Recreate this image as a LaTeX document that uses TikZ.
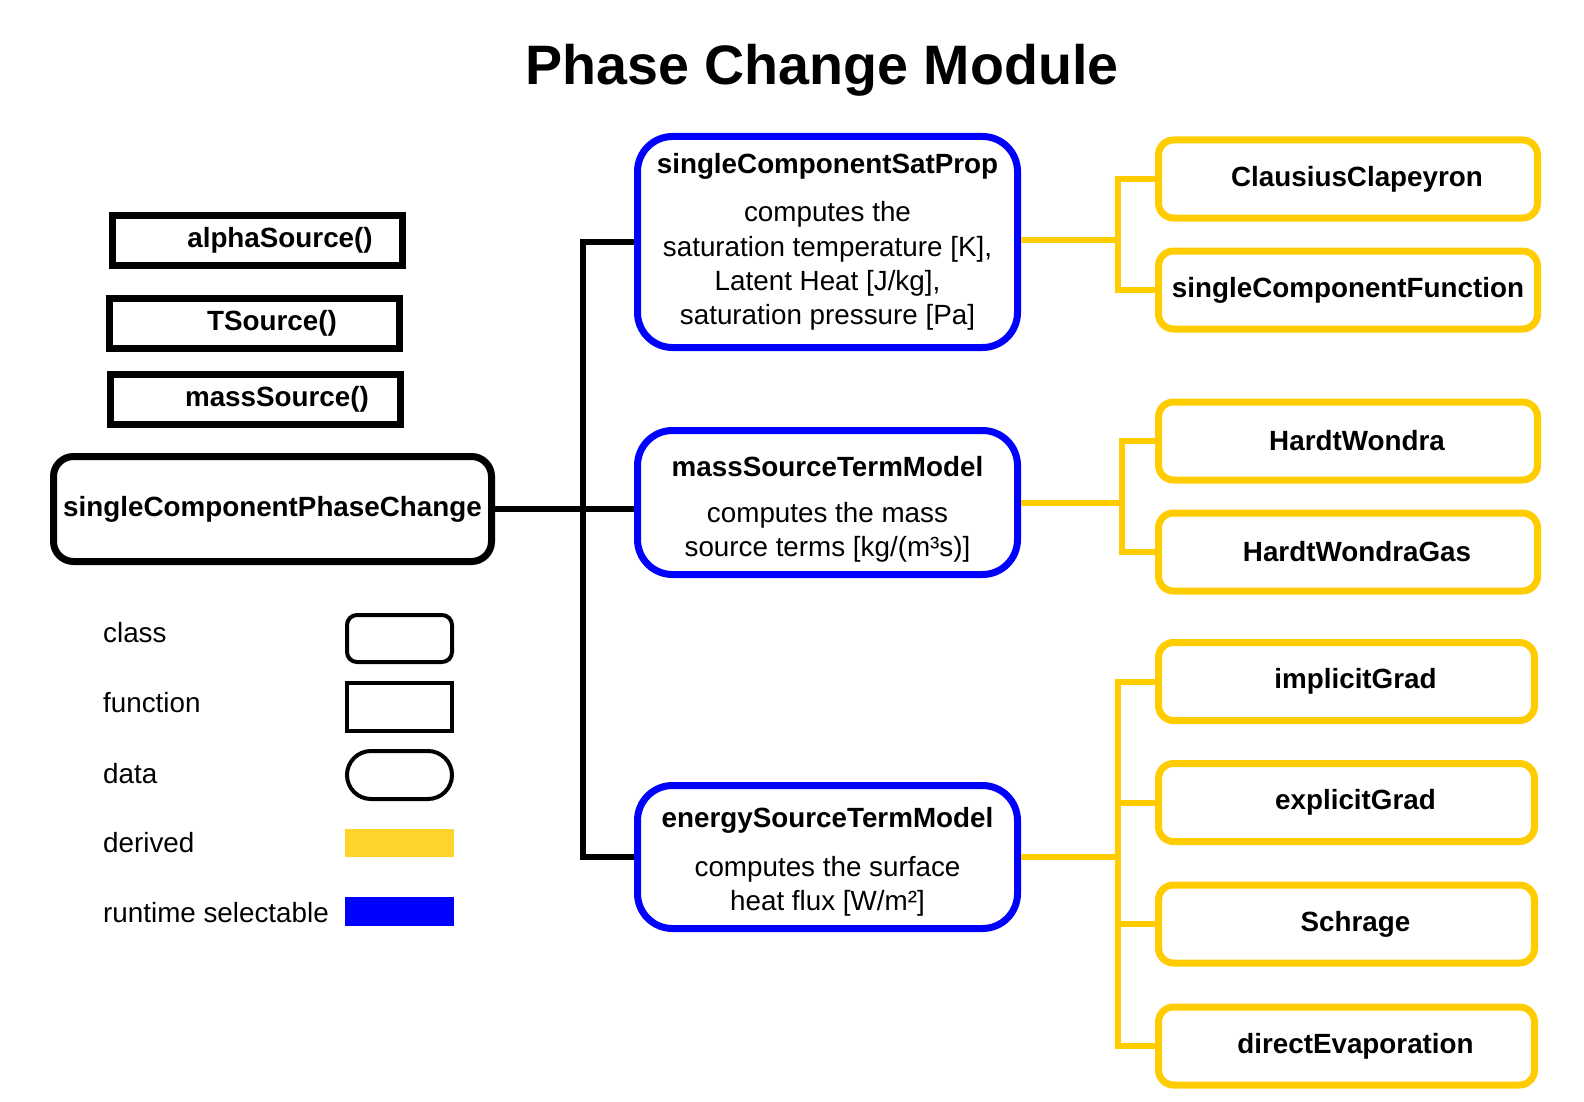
\documentclass[tikz,border=0pt]{standalone}
\usepackage{fontspec}
\setmainfont{Liberation Sans}
\definecolor{rtblue}{HTML}{0000FF}
\definecolor{deryellow}{HTML}{FFCC00}
\definecolor{legyellow}{HTML}{FFD42A}
\begin{document}
\begin{tikzpicture}[x=1pt,y=-1pt,
        txt/.style={inner sep=0pt,font=\fontsize{27.8}{34.3}\selectfont},
        fnbox/.style={draw,line width=7pt,minimum width=290pt,minimum height=50pt,inner sep=0pt,font=\fontsize{27.8}{34.3}\selectfont\bfseries},
        clsbox/.style={draw,line width=7pt,rounded corners=20pt,inner sep=0pt,font=\fontsize{27.8}{34.3}\selectfont\bfseries},
        rtbox/.style={draw=rtblue,line width=7pt,rounded corners=35pt,minimum width=380pt,inner sep=0pt,align=center,font=\fontsize{27.8}{34.3}\selectfont},
        derbox/.style={draw=deryellow,line width=7pt,rounded corners=15pt,minimum width=379pt,minimum height=78pt,inner sep=0pt,font=\fontsize{27.8}{34.3}\selectfont\bfseries},
        clsline/.style={line width=6pt},
        derline/.style={draw=deryellow,line width=6pt}]
        \useasboundingbox (0,0) rectangle (1584,1102);
        \node[font=\fontsize{55.6}{60}\selectfont\bfseries] (title) at (822,70) {Phase Change Module};
        % functions and the class
        \node[fnbox] (alpha) at (257.5,240.5) {\hspace*{45pt}alphaSource()};
        \node[fnbox] (tsrc) at (254.5,323) {\hspace*{35pt}TSource()};
        \node[fnbox] (msrc) at (255,399) {\hspace*{44pt}massSource()};
        \node[clsbox,minimum width=438pt,minimum height=105pt] (pc) at (272.5,509) {singleComponentPhaseChange};
        % runtime selectable models
        \node[rtbox,minimum height=211pt] (sat) at (827.5,242) {\textbf{singleComponentSatProp}\\[14pt]computes the\\saturation temperature [K],\\Latent Heat [J/kg],\\saturation pressure [Pa]};
        \node[rtbox,minimum height=144pt] (mass) at (827.5,502.5) {\rule{0pt}{34pt}\textbf{massSourceTermModel}\\[12pt]computes the mass\\source terms [kg/(m³s)]};
        \node[rtbox,minimum height=143pt] (energy) at (827.5,857) {\rule{0pt}{30pt}\textbf{energySourceTermModel}\\[14pt]computes the surface\\heat flux [W/m²]};
        % derived
        \node[derbox] (clausius) at (1348,179) {\hspace*{18pt}ClausiusClapeyron};
        \node[derbox] (scf) at (1348,290) {singleComponentFunction};
        \node[derbox] (hw) at (1348,441) {\hspace*{18pt}HardtWondra};
        \node[derbox] (hwg) at (1348,552) {\hspace*{18pt}HardtWondraGas};
        \node[derbox,minimum width=376pt] (implicit) at (1346.5,681.5) {\hspace*{18pt}implicitGrad};
        \node[derbox,minimum width=376pt] (explicit) at (1346.5,802.5) {\hspace*{18pt}explicitGrad};
        \node[derbox,minimum width=376pt] (schrage) at (1346.5,924) {\hspace*{18pt}Schrage};
        \node[derbox,minimum width=376pt] (direvap) at (1346.5,1046) {\hspace*{18pt}directEvaporation};
        % black connectors
        \coordinate (bus) at (583,508);
        \draw[clsline] (pc.east) -- (pc.east -| mass.west);
        \draw[clsline] (sat.west) -| (bus) |- (energy.west);
        % yellow connectors
        \coordinate (satfork) at (1118,240);
        \coordinate (massfork) at (1122,502.5);
        \coordinate (enfork) at (1118,857);
        \draw[derline] (sat.east |- satfork) -- (satfork);
        \draw[derline] (clausius.west) -| (satfork) |- (scf.west);
        \draw[derline] (mass.east) -- (massfork);
        \draw[derline] (hw.west) -| (massfork) |- (hwg.west);
        \draw[derline] (energy.east) -- (enfork);
        \draw[derline] (implicit.west) -| (enfork) |- (direvap.west);
        \foreach \n in {explicit,schrage} \draw[derline] (\n.west) -- (\n.west -| enfork);
        % legend
        \node[txt,anchor=west] (lclass) at (103,633) {class};
        \node[txt,anchor=west] (lfunc) at (103,703) {function};
        \node[txt,anchor=west] (ldata) at (103,774) {data};
        \node[txt,anchor=west] (lder) at (103,843) {derived};
        \node[txt,anchor=west] (lrt) at (103,913) {runtime selectable};
        \node[draw,line width=4pt,rounded corners=10pt,minimum width=105pt,minimum height=47pt] (sclass) at (399.5,638.5) {};
        \node[draw,line width=4pt,minimum width=105pt,minimum height=48pt] (sfunc) at (399.5,707) {};
        \node[draw,line width=4pt,rounded corners=24pt,minimum width=105pt,minimum height=48pt] (sdata) at (399.5,775) {};
        \node[fill=legyellow,inner sep=0pt,minimum width=109pt,minimum height=28pt] (sder) at (399.5,843) {};
        \node[fill=rtblue,inner sep=0pt,minimum width=109pt,minimum height=29pt] (srt) at (399.5,911.5) {};
\end{tikzpicture}
\end{document}
